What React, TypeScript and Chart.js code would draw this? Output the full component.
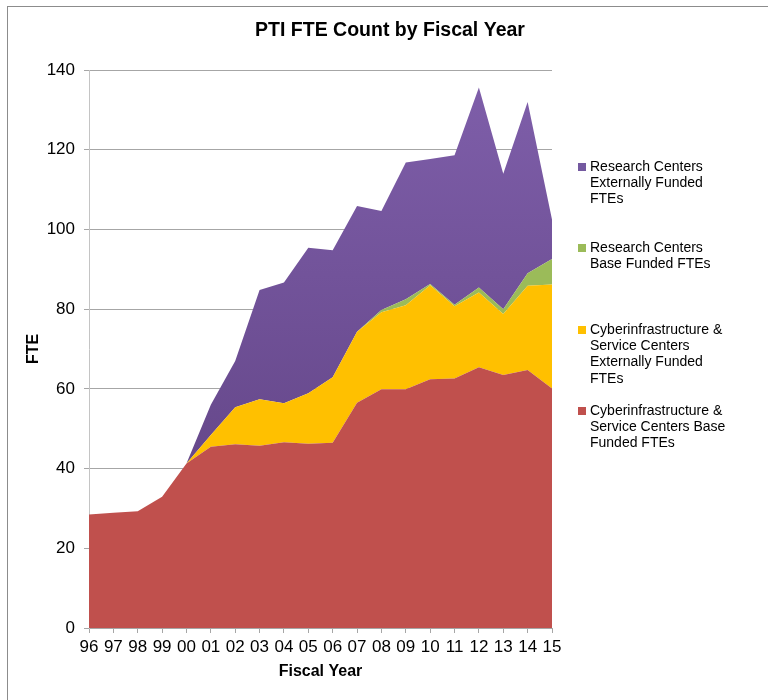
import React, { useEffect, useRef } from "react";
import { Chart, registerables } from "chart.js";

Chart.register(...registerables);

const years = ["96","97","98","99","00","01","02","03","04","05","06","07","08","09","10","11","12","13","14","15"];
const ciBase = [28.5,28.9,29.3,32.9,41.3,45.5,46.1,45.7,46.6,46.2,46.5,56.5,59.9,59.9,62.4,62.6,65.4,63.5,64.7,60.1];
const ciExternal = [0,0,0,0,0,2.9,9.3,11.7,9.8,12.7,16.4,17.8,19.3,21.1,23.6,18.1,18.8,15.3,21.2,26.1];
const rcBase = [0,0,0,0,0,0,0,0,0,0,0,0,0.6,1.5,0.3,0.4,1.2,1.2,3.1,6.4];
const rcExternal = [0,0,0,0,0,7.6,11.6,27.4,30.3,36.5,31.9,31.6,24.8,34.3,31.4,37.5,50.2,34.0,43.0,9.9];

const seriesNames = [
  "Cyberinfrastructure & Service Centers Base Funded FTEs",
  "Cyberinfrastructure & Service Centers Externally Funded FTEs",
  "Research Centers Base Funded FTEs",
  "Research Centers Externally Funded FTEs",
];
const legendLines = [
  ["Research Centers", "Externally Funded", "FTEs"],
  ["Research Centers", "Base Funded FTEs"],
  ["Cyberinfrastructure &", "Service Centers", "Externally Funded", "FTEs"],
  ["Cyberinfrastructure &", "Service Centers Base", "Funded FTEs"],
];
const legendColors = ["#7459a0", "#9BBB59", "#FFC000", "#C0504D"];
const legendTops = [167, 248, 330, 411];

const FONT = "'Liberation Sans', Arial, sans-serif";

const decorPlugin = {
  id: "decor",
  beforeDraw(chart: any) {
    const c = chart.ctx;
    c.save();
    c.fillStyle = "#ffffff";
    c.fillRect(0, 0, chart.width, chart.height);
    c.strokeStyle = "#8c8c8c";
    c.lineWidth = 1;
    c.strokeRect(7.5, 6.5, chart.width + 20, chart.height + 20);
    c.restore();
  },
  afterDraw(chart: any) {
    const c = chart.ctx;
    c.save();
    c.fillStyle = "#000000";
    c.font = `bold 19.5px ${FONT}`;
    c.textAlign = "center";
    c.textBaseline = "middle";
    c.fillText("PTI FTE Count by Fiscal Year", 390, 31);
    c.font = `14px ${FONT}`;
    c.textAlign = "left";
    legendLines.forEach((lines, i) => {
      const top = legendTops[i];
      c.fillStyle = legendColors[i];
      c.fillRect(578, top - 4, 8, 8);
      c.fillStyle = "#000000";
      lines.forEach((ln, j) => {
        c.fillText(ln, 590, top + j * 16.3);
      });
    });
    c.restore();
  },
};

function purpleFill(ctx: any) {
  const chart = ctx.chart;
  const area = chart.chartArea;
  if (!area) return "#7459a0";
  const y = chart.scales.y;
  const g = chart.ctx.createLinearGradient(0, y.getPixelForValue(136), 0, y.getPixelForValue(41));
  g.addColorStop(0, "#7e5ea9");
  g.addColorStop(1, "#66488b");
  return g;
}

export default function App() {
  const ref = useRef<HTMLCanvasElement | null>(null);
  useEffect(() => {
    if (!ref.current) return;
    const chart = new Chart(ref.current, {
      type: "line",
      data: {
        labels: years,
        datasets: [
          { label: seriesNames[0], data: ciBase, backgroundColor: "#C0504D", fill: "origin" },
          { label: seriesNames[1], data: ciExternal, backgroundColor: "#FFC000", fill: "-1" },
          { label: seriesNames[2], data: rcBase, backgroundColor: "#9BBB59", fill: "-1" },
          { label: seriesNames[3], data: rcExternal, backgroundColor: purpleFill as any, fill: "-1" },
        ].map((d) => ({ ...d, borderWidth: 0, borderColor: "rgba(0,0,0,0)", pointRadius: 0, tension: 0 })),
      },
      options: {
        responsive: false,
        animation: false,
        layout: { padding: { top: 70, right: 216, bottom: 0, left: 0 } },
        plugins: {
          legend: { display: false },
          title: { display: false },
          tooltip: { enabled: false },
        },
        scales: {
          x: {
            type: "category",
            offset: false,
            grid: { display: true, drawOnChartArea: false, drawTicks: true, tickLength: 5, color: "#a6a6a6" },
            border: { display: true, color: "#a6a6a6" },
            ticks: {
              autoSkip: false,
              maxRotation: 0,
              minRotation: 0,
              padding: 4,
              color: "#000000",
              font: { family: FONT, size: 17 },
            },
            title: {
              display: true,
              text: "Fiscal Year",
              color: "#000000",
              font: { family: FONT, size: 16, weight: "bold" },
              padding: { top: 0, bottom: 19 },
            },
            afterFit(scale: any) {
              scale.height = 72;
            },
          },
          y: {
            stacked: true,
            min: 0,
            max: 140,
            grid: { color: "#a6a6a6", tickLength: 5, drawTicks: true },
            border: { display: true, color: "#c4c4c4" },
            ticks: {
              stepSize: 20,
              padding: 9,
              color: "#000000",
              font: { family: FONT, size: 17 },
            },
            title: {
              display: true,
              text: "FTE",
              color: "#000000",
              font: { family: FONT, size: 16, weight: "bold" },
              padding: { top: 24, bottom: 0 },
            },
            afterFit(scale: any) {
              scale.width = 89;
            },
          },
        },
      },
      plugins: [decorPlugin],
    });
    return () => chart.destroy();
  }, []);
  return (
    <div style={{ position: "absolute", left: 0, top: 0, width: 768, height: 700 }}>
      <canvas ref={ref} width={768} height={700} />
    </div>
  );
}
